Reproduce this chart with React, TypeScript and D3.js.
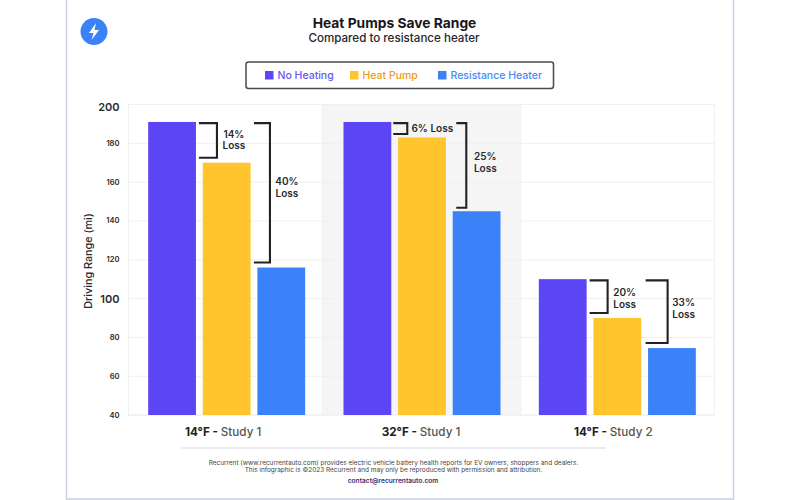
import React from "react";
import * as d3 from "d3";

const groups = ["14°F|Study 1", "32°F|Study 1", "14°F|Study 2"];
const seriesNames = ["No Heating", "Heat Pump", "Resistance Heater"];
const seriesColors = ["#5b45f5", "#ffc42e", "#3b82f8"];
const legendTextColors = ["#6a55f5", "#ef9a20", "#4688f8"];
const noHeating = [191, 191, 110];
const heatPump = [170, 183, 90];
const resistance = [116, 145, 74.5];
const yTicks = [200, 180, 160, 140, 120, 100, 80, 60, 40];
const majorTicks = [200, 100];
const lossLabels = [["14%", "40%"], ["6%", "25%"], ["20%", "33%"]];

// annotation layout, relative to the right edge of each group's first bar
const innerBracket = [[3, 21], [2, 16], [3, 21]];
const outerBracket = [[58, 74], [65, 75], [59, 81]];
const innerLabelDx = [38, 41, 38];
const outerLabelDx = [91, 94, 97];
const innerLabelY = [137.7, 131.7, 296];
const outerLabelY = [185, 160, 306];
const bracketGap = [5, 3.5, 5];
const xLabelDx = [-3.5, -1, -4];

const FONT = "Inter, 'Noto Sans', sans-serif";
const INK = "#2a2a2e";

export default function App() {
  const y = d3.scaleLinear().domain([40, 200]).range([415, 104.5]);
  const x = d3.scaleBand<string>().domain(groups).range([129, 715]);
  const inner = d3.scaleBand<number>().domain([0, 1, 2]).range([0, 157]).paddingInner(0.125);
  const barX = (g: string, i: number) => x(g)! + (x.bandwidth() - 157) / 2 + inner(i)!;
  const series = [noHeating, heatPump, resistance];

  const bracket = (xl: number, xr: number, top: number, bot: number) =>
    `M${xl},${top}H${xr}V${bot}H${xl}`;

  return (
    <svg width={800} height={500} style={{ position: "absolute", left: 0, top: 0, background: "#fff" }} fontFamily={FONT}>
      <rect x={66.5} y={-2} width={667} height={501} fill="#fff" stroke="#cfcfe8" strokeWidth={1.5} />

      <circle cx={94} cy={31.5} r={13.5} fill="#3b82f8" />
      <path d="M96,23 L89,33 H93.5 L91.5,40 L99,30 H94.5 Z" fill="#fff" />

      <text x={394.5} y={28} textAnchor="middle" fontSize={13.8} fontWeight={700} fill="#17171c">Heat Pumps Save Range</text>
      <text x={394} y={42} textAnchor="middle" fontSize={11.6} fontWeight={500} fill="#26262c">Compared to resistance heater</text>

      <rect x={246} y={62} width={307.5} height={26.5} rx={2.5} fill="#fff" stroke="#4a4a50" strokeWidth={1.5} />
      {seriesNames.map((n, i) => {
        const lx = [265, 350, 438][i];
        return (
          <g key={n}>
            <rect x={lx} y={71} width={8.5} height={8.5} fill={seriesColors[i]} />
            <text x={lx + 12.5} y={79} fontSize={10.5} fontWeight={500} fill={legendTextColors[i]}>{n}</text>
          </g>
        );
      })}

      <rect x={x(groups[1])! - 3} y={y(200)} width={x.bandwidth() + 5} height={y(40) - y(200)} fill="#f5f5f5" />
      <rect x={128.5} y={y(200)} width={586} height={y(40) - y(200)} fill="none" stroke="#f0f0f2" />
      {yTicks.map((t) => {
        const major = majorTicks.includes(t);
        return (
          <g key={t}>
            <line x1={128.5} x2={714.5} y1={y(t)} y2={y(t)} stroke="#f0f0f2" />
            <text
              x={119.5}
              y={y(t) + (t === 200 ? 6 : major ? 4 : 2.5)}
              textAnchor="end"
              fontSize={major ? 11 : 7.6}
              fontWeight={600}
              fill={INK}
            >{t}</text>
          </g>
        );
      })}
      <text transform="translate(92,261) rotate(-90)" textAnchor="middle" fontSize={10.8} fontWeight={500} fill={INK}>Driving Range (mi)</text>

      {groups.map((g, gi) => (
        <g key={g}>
          {series.map((s, i) => (
            <rect key={i} x={barX(g, i)} y={y(s[gi])} width={inner.bandwidth()} height={y(40) - y(s[gi])} fill={seriesColors[i]} />
          ))}
          <text x={x(g)! + x.bandwidth() / 2 + xLabelDx[gi]} y={436} textAnchor="middle" fontSize={11.7}>
            <tspan fontWeight={700} fill="#222">{g.split("|")[0]} - </tspan>
            <tspan fontWeight={500} fill="#555">{g.split("|")[1]}</tspan>
          </text>
        </g>
      ))}

      {groups.map((g, gi) => {
        const edge = barX(g, 0) + inner.bandwidth();
        const top = y(noHeating[gi]) + 1.2;
        const b1 = y(heatPump[gi]) - bracketGap[gi];
        const b2 = y(resistance[gi]) - bracketGap[gi];
        const [l1, l2] = lossLabels[gi];
        const cx1 = edge + innerLabelDx[gi];
        const cx2 = edge + outerLabelDx[gi];
        return (
          <g key={g}>
            <path d={bracket(edge + innerBracket[gi][0], edge + innerBracket[gi][1], top, b1)} fill="none" stroke="#222" strokeWidth={2.1} />
            <path d={bracket(edge + outerBracket[gi][0], edge + outerBracket[gi][1], top, b2)} fill="none" stroke="#222" strokeWidth={2.1} />
            {gi === 1 ? (
              <text x={cx1} y={innerLabelY[gi]} textAnchor="middle" fontSize={10} fontWeight={600} fill={INK}>{l1} Loss</text>
            ) : (
              <text textAnchor="middle" fontSize={10} fontWeight={600} fill={INK}>
                <tspan x={cx1} y={innerLabelY[gi]}>{l1}</tspan>
                <tspan x={cx1} dy={11.5}>Loss</tspan>
              </text>
            )}
            <text textAnchor="middle" fontSize={10} fontWeight={600} fill={INK}>
              <tspan x={cx2} y={outerLabelY[gi]}>{l2}</tspan>
              <tspan x={cx2} dy={11.5}>Loss</tspan>
            </text>
          </g>
        );
      })}

      <line x1={181} x2={606} y1={448} y2={448} stroke="#d8d8ea" strokeWidth={1.2} />
      <text x={393.5} y={464.5} textAnchor="middle" fontSize={6.45} fill="#444">Recurrent (www.recurrentauto.com) provides electric vehicle battery health reports for EV owners, shoppers and dealers.</text>
      <text x={393.5} y={472} textAnchor="middle" fontSize={6.45} fill="#444">This infographic is ©2023 Recurrent and may only be reproduced with permission and attribution.</text>
      <text x={393} y={483} textAnchor="middle" fontSize={6.6} fontWeight={600} fill="#33337a">contact@recurrentauto.com</text>
    </svg>
  );
}
